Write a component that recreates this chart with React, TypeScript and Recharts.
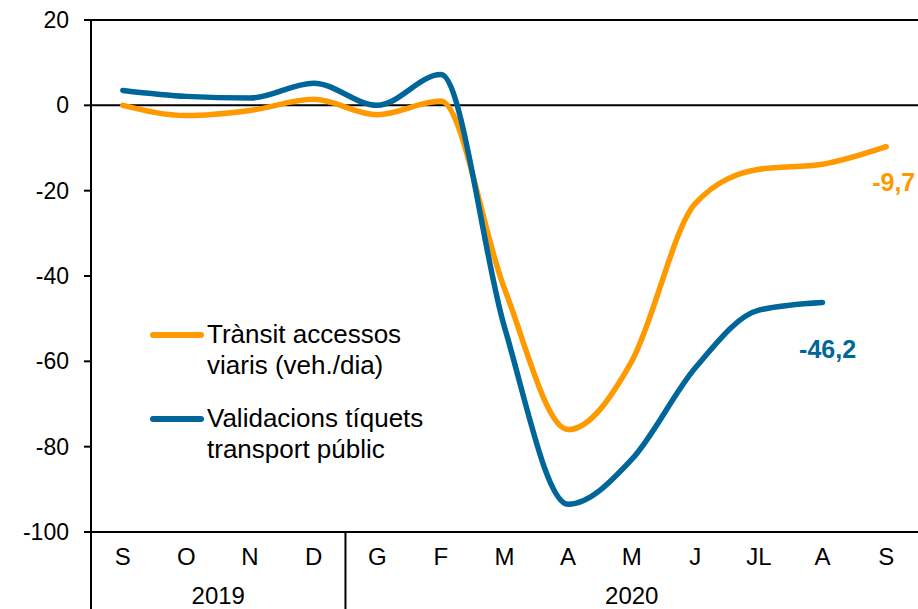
import { Legend, Line, LineChart, ReferenceLine, XAxis, YAxis } from "recharts";

const months = ["S", "O", "N", "D", "G", "F", "M", "A", "M", "J", "JL", "A", "S"];
const transit = [0, -2.4, -1.2, 1.4, -2.2, 1.0, -43, -76, -60, -23, -15, -13.8, -9.7];
const validacions = [3.5, 2.1, 1.7, 5.2, 0, 7.2, -52, -93.5, -83, -61.5, -48, -46.2, null];
const yTicks = [-100, -80, -60, -40, -20, 0, 20];
const transitName = ["Trànsit accessos", "viaris (veh./dia)"];
const validacionsName = ["Validacions tíquets", "transport públic"];
const years = [
  { label: "2019", from: 0, to: 3 },
  { label: "2020", from: 4, to: 12 },
];

const ORANGE = "#FF9900";
const BLUE = "#00669A";
const FONT = "'Liberation Sans', Arial, sans-serif";

const W = 918;
const H = 609;
const LEFT = 91;
const step = (W - LEFT) / months.length;

const data = months.map((m, i) => ({
  month: m,
  transit: transit[i],
  validacions: validacions[i],
}));

function lastIndex(arr: (number | null)[]) {
  for (let i = arr.length - 1; i >= 0; i--) if (arr[i] !== null) return i;
  return -1;
}

const fmt = (v: number) => v.toFixed(1).replace(".", ",");

function endLabel(color: string, last: number, dx: number, dy: number, anchor: string) {
  return (props: any) => {
    const { x, y, index, value } = props;
    if (index !== last || value == null) return null;
    return (
      <text
        x={x + dx}
        y={y + dy}
        fill={color}
        fontSize={25}
        fontWeight="bold"
        fontFamily={FONT}
        textAnchor={anchor}
      >
        {fmt(value)}
      </text>
    );
  };
}

function MonthTick(props: any) {
  const { x, y, payload } = props;
  const i = payload.index;
  const parts: any[] = [
    <text key="m" x={x} y={y + 33} textAnchor="middle" fontSize={24} fill="#000" fontFamily={FONT}>
      {months[i]}
    </text>,
  ];
  years.forEach((yr) => {
    const mid = (yr.from + yr.to) / 2;
    if (i === Math.floor(mid)) {
      parts.push(
        <text
          key="y"
          x={x + (mid - i) * step}
          y={y + 72}
          textAnchor="middle"
          fontSize={24}
          fill="#000"
          fontFamily={FONT}
        >
          {yr.label}
        </text>
      );
    }
    if (i === yr.from) {
      parts.push(
        <line key="s" x1={x - step / 2} x2={x - step / 2} y1={y} y2={H} stroke="#000" strokeWidth={2} />
      );
    }
  });
  return <g>{parts}</g>;
}

function LegendBox() {
  const items = [
    { color: ORANGE, lines: transitName },
    { color: BLUE, lines: validacionsName },
  ];
  return (
    <div style={{ fontFamily: FONT, fontSize: 26, color: "#000" }}>
      {items.map((it, k) => (
        <div key={k} style={{ display: "flex", alignItems: "flex-start", marginBottom: 22 }}>
          <span
            style={{
              display: "inline-block",
              width: 54,
              height: 6,
              borderRadius: 3,
              background: it.color,
              marginTop: 13,
              marginRight: 3,
            }}
          />
          <div style={{ lineHeight: "31px", whiteSpace: "nowrap" }}>
            {it.lines.map((l) => (
              <div key={l}>{l}</div>
            ))}
          </div>
        </div>
      ))}
    </div>
  );
}

export default function App() {
  return (
    <div style={{ position: "absolute", left: 0, top: 0, width: W, height: H, background: "#fff" }}>
      <LineChart width={W} height={H} data={data} margin={{ top: 20, right: 0, bottom: 0, left: 0 }}>
        <XAxis
          dataKey="month"
          height={77}
          tickLine={false}
          tickSize={0}
          tickMargin={0}
          interval={0}
          padding={{ left: step / 2, right: step / 2 }}
          axisLine={{ stroke: "#000", strokeWidth: 2 }}
          tick={<MonthTick />}
        />
        <YAxis
          width={LEFT}
          domain={[-100, 20]}
          ticks={yTicks}
          tickSize={7}
          tickMargin={15}
          axisLine={{ stroke: "#000", strokeWidth: 2 }}
          tickLine={{ stroke: "#000", strokeWidth: 2 }}
          tick={{ fill: "#000", fontSize: 23, fontFamily: FONT }}
        />
        <ReferenceLine y={0} stroke="#000" strokeWidth={2} />
        <ReferenceLine y={20} stroke="#000" strokeWidth={2} />
        <Legend
          layout="horizontal"
          verticalAlign="middle"
          align="center"
          content={() => <LegendBox />}
          wrapperStyle={{ left: 150, top: 319, width: 320 }}
        />
        <Line
          type="monotone"
          dataKey="transit"
          name={transitName.join(" ")}
          stroke={ORANGE}
          strokeWidth={5.5}
          strokeLinecap="round"
          dot={false}
          activeDot={false}
          isAnimationActive={false}
          label={endLabel(ORANGE, lastIndex(transit), -14, 44, "start")}
        />
        <Line
          type="monotone"
          dataKey="validacions"
          name={validacionsName.join(" ")}
          stroke={BLUE}
          strokeWidth={5.5}
          strokeLinecap="round"
          dot={false}
          activeDot={false}
          isAnimationActive={false}
          label={endLabel(BLUE, lastIndex(validacions), 5, 56, "middle")}
        />
      </LineChart>
    </div>
  );
}
